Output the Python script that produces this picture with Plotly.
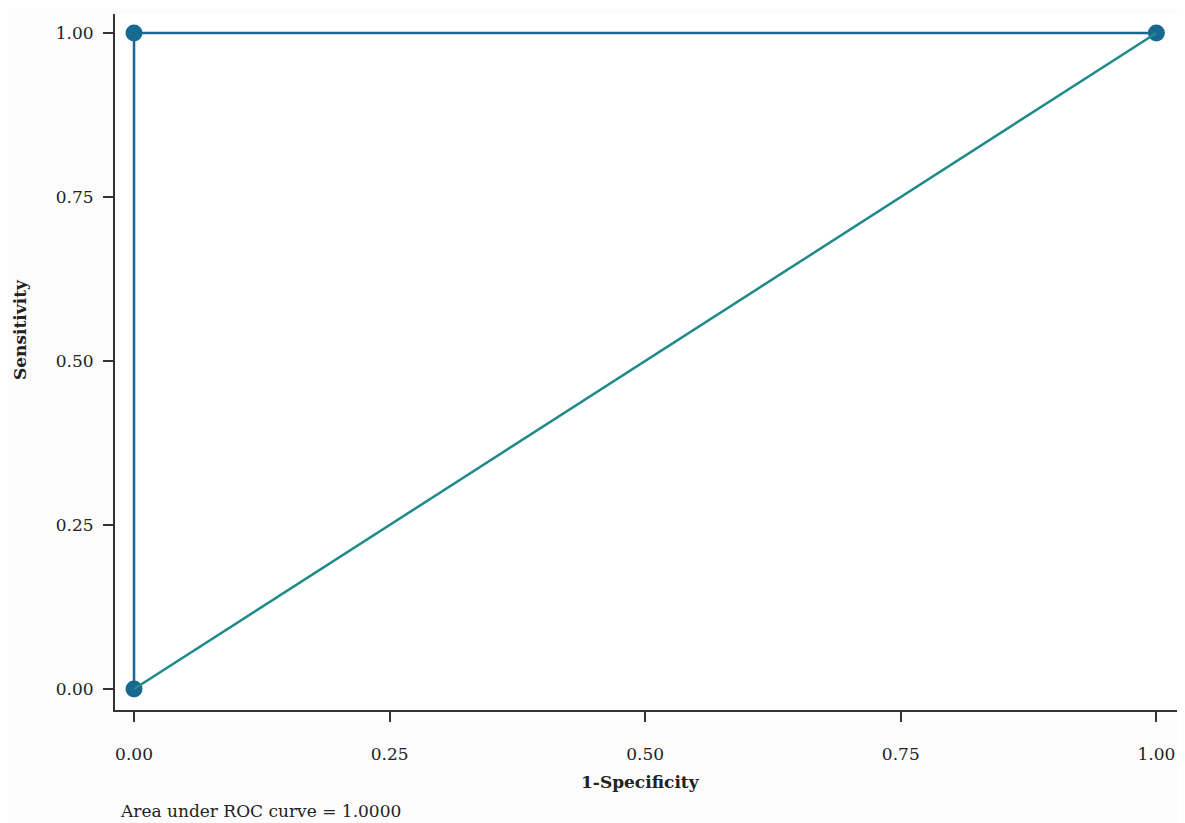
import plotly.graph_objects as go

roc_x = [0.0, 0.0, 1.0]
roc_y = [0.0, 1.0, 1.0]
ref_x = [0.0, 1.0]
ref_y = [0.0, 1.0]
tick_vals = [0.0, 0.25, 0.5, 0.75, 1.0]
tick_text = ["0.00", "0.25", "0.50", "0.75", "1.00"]
auc_label = "Area under ROC curve = 1.0000"

FONT = "DejaVu Serif"
OFF = 8  # page body margin
W, H = 1185 - OFF, 823 - OFF
L, R, T, B = 115 - OFF, 0, 14 - OFF, 113

def px(x):
    return (x - OFF - L) / (W - L - R)

def py(y):
    return (H - B - (y - OFF)) / (H - T - B)

fig = go.Figure()
fig.add_trace(go.Scatter(x=roc_x, y=roc_y, mode="lines+markers",
                         line=dict(color="#1b6690", width=2.5),
                         marker=dict(color="#17698f", size=17),
                         showlegend=False, cliponaxis=False))
fig.add_trace(go.Scatter(x=ref_x, y=ref_y, mode="lines",
                         line=dict(color="#1e8a8a", width=2.5),
                         showlegend=False, cliponaxis=False))

axis_common = dict(showgrid=False, zeroline=False, showline=True,
                   linecolor="#333333", linewidth=2,
                   ticks="outside", tickcolor="#333333", tickwidth=2,
                   tickvals=tick_vals, ticktext=tick_text,
                   tickfont=dict(family=FONT, size=17, color="#222222"))

fig.update_xaxes(range=[-0.0186, 1.028], ticklen=10, ticklabelstandoff=18, **axis_common)
fig.update_yaxes(range=[-0.032, 1.029], ticklen=10, ticklabelstandoff=6, **axis_common)

fig.add_annotation(text="<b>1-Specificity</b>", xref="paper", yref="paper",
                   x=px(640), y=py(782),
                   xanchor="center", yanchor="middle", showarrow=False,
                   font=dict(family=FONT, size=17, color="#222222"))
fig.add_annotation(text="<b>Sensitivity</b>", xref="paper", yref="paper",
                   x=px(20), y=py(330),
                   xanchor="center", yanchor="middle", showarrow=False, textangle=-90,
                   font=dict(family=FONT, size=17, color="#222222"))
fig.add_annotation(text=auc_label, xref="paper", yref="paper",
                   x=px(118), y=py(811),
                   xanchor="left", yanchor="middle", showarrow=False,
                   font=dict(family=FONT, size=17, color="#222222"))

fig.update_layout(width=W, height=H, margin=dict(l=L, r=R, t=T, b=B),
                  paper_bgcolor="#fcfcfc", plot_bgcolor="white")
fig.write_html("out.html")
